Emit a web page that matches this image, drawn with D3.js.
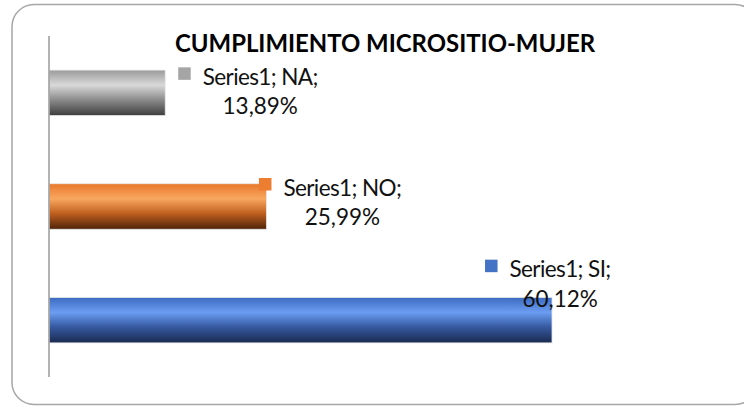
<!DOCTYPE html>
<html>
<head>
<meta charset="utf-8">
<script src="https://cdn.jsdelivr.net/npm/d3@7"></script>
<style>
  body { margin: 0; background: #fff; }
  svg { display: block; }
</style>
</head>
<body>
<svg id="chart" width="744" height="406"></svg>
<script>
// data
const categories = ['NA', 'NO', 'SI'];
const values = [13.89, 25.99, 60.12];
const seriesName = 'Series1';
const title = 'CUMPLIMIENTO MICROSITIO-MUJER';

// per-bar look and label nudges (Excel labels were dragged by hand)
const palette = {
  NA: { key: '#a5a5a5', stops: ['#9a9a9a', '#d9d9d9', '#8c8c8c', '#3d3d3d'] },
  NO: { key: '#ed7d31', stops: ['#e8782a', '#f9a760', '#c0601f', '#4f2208'] },
  SI: { key: '#4472c4', stops: ['#3c6bc0', '#6b9df2', '#3659a0', '#1a2a50'] },
};
// top-left of the legend key, relative to bar end / band centre
const labelNudge = { NA: [13, -25.5], NO: [-7.5, -28.5], SI: [-67, -60.5] };

const font = "Lato, 'Open Sans', sans-serif";
const fmt = v => d3.format('.2f')(v).replace('.', ',') + '%';

const svg = d3.select('#chart');

// outer rounded frame (right edge runs off the picture)
svg.append('rect')
  .attr('x', 12).attr('y', 4.5)
  .attr('width', 745).attr('height', 400)
  .attr('rx', 22)
  .attr('fill', '#fff')
  .attr('stroke', '#a6a6a6')
  .attr('stroke-width', 1.5);

const x = d3.scaleLinear().domain([0, 70]).range([49, 634.7]);
const y = d3.scaleBand()
  .domain(categories)
  .range([36, 377])
  .paddingInner(0.6)
  .paddingOuter(0.3);

const defs = svg.append('defs');
categories.forEach(c => {
  const g = defs.append('linearGradient')
    .attr('id', `grad-${c}`)
    .attr('x1', 0).attr('y1', 0).attr('x2', 0).attr('y2', 1);
  const offs = [0, 0.33, 0.65, 1];
  palette[c].stops.forEach((col, i) => {
    g.append('stop').attr('offset', offs[i]).attr('stop-color', col);
  });
});

const rows = categories.map((c, i) => ({ cat: c, value: values[i] }));

svg.append('g')
  .selectAll('rect')
  .data(rows)
  .enter()
  .append('rect')
  .attr('x', x(0))
  .attr('y', d => y(d.cat))
  .attr('width', d => x(d.value) - x(0))
  .attr('height', y.bandwidth())
  .attr('fill', d => `url(#grad-${d.cat})`)
  .attr('stroke', '#e8e8e8')
  .attr('stroke-width', 0.8);

// category axis: just the line, no ticks or labels
svg.append('line')
  .attr('x1', x(0)).attr('x2', x(0))
  .attr('y1', y.range()[0]).attr('y2', y.range()[1])
  .attr('stroke', '#a0a0a0')
  .attr('stroke-width', 1.6);

// data labels with legend key
const labels = svg.append('g')
  .selectAll('g')
  .data(rows)
  .enter()
  .append('g')
  .attr('transform', d => {
    const [dx, dy] = labelNudge[d.cat];
    return `translate(${x(d.value) + dx}, ${y(d.cat) + y.bandwidth() / 2 + dy})`;
  });

labels.append('rect')
  .attr('width', 12.5).attr('height', 12.5)
  .attr('fill', d => palette[d.cat].key);

labels.append('text')
  .attr('x', 24.5).attr('y', 17.5)
  .attr('font-family', font)
  .attr('font-size', 22.5)
  .attr('letter-spacing', -0.6)
  .attr('fill', '#111')
  .text(d => `${seriesName}; ${d.cat};`);

// second line sits centred under the first line's text
labels.each(function () {
  const w = d3.select(this).select('text').node().getComputedTextLength();
  d3.select(this).append('text')
    .attr('x', 24.5 + w / 2).attr('y', 47)
    .attr('text-anchor', 'middle')
    .attr('font-family', font)
    .attr('font-size', 22.5)
    .attr('fill', '#111')
    .text(d => fmt(d.value));
});

svg.append('text')
  .attr('x', 385).attr('y', 52)
  .attr('text-anchor', 'middle')
  .attr('font-family', font)
  .attr('font-weight', 'bold')
  .attr('font-size', 25.5)
  .attr('textLength', 420)
  .attr('lengthAdjust', 'spacingAndGlyphs')
  .attr('fill', '#000')
  .text(title);
</script>
</body>
</html>
